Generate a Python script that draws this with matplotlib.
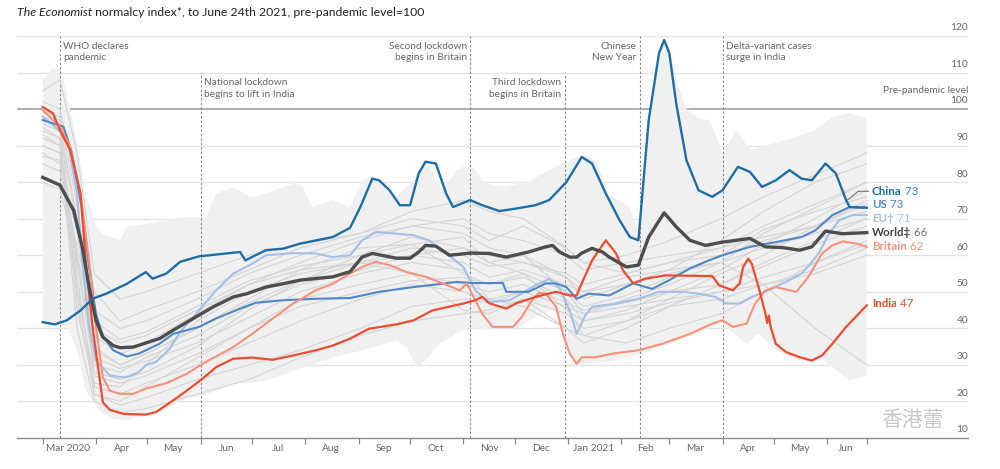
import numpy as np
import matplotlib
matplotlib.use("Agg")
import matplotlib.pyplot as plt
import matplotlib.text as mtext

# ---------------- data (days since 1 Mar 2020, index values) ----------------
START = np.datetime64("2020-03-01")
END_DAY = 480  # 24 June 2021

world_days = [0,10,18,23,27,31,35,41,45,53,60,68,76,84,91,99,111,119,130,140,
              150,169,179,186,192,206,214,219,223,229,237,249,260,270,283,293,297,301,307,311,
              314,320,326,330,340,347,353,362,369,377,386,396,412,421,431,441,448,456,466,480]
world_vals = [81.3,79.2,72.3,62.3,51.3,42.2,37.6,35.3,34.7,34.9,36.0,37.2,39.5,41.7,43.6,45.8,48.6,49.5,51.3,52.2,
              53.2,54.1,55.5,59.5,60.5,59.2,59.2,60.9,62.7,62.5,60.0,60.6,60.5,59.5,60.9,62.3,62.7,60.9,59.5,59.5,
              60.6,61.9,60.9,59.5,56.8,57.3,65.0,71.6,67.8,64.1,62.7,63.6,64.6,62.3,62.1,61.4,62.3,66.6,65.9,66.2]

china_days = [0,7,14,22,29,37,49,60,64,72,80,91,115,118,130,140,150,169,179,185,
              192,196,202,208,214,219,223,229,235,239,249,256,266,276,287,295,305,314,320,328,
              336,342,347,353,359,362,365,369,375,382,390,396,405,412,419,427,435,442,448,456,
              462,468,470,480]
china_vals = [41.7,41.1,42.2,44.9,48.1,49.5,52.2,55.4,53.6,55.0,58.2,59.7,60.9,58.6,61.4,61.8,63.2,65.0,67.5,73.2,
              81.0,80.5,77.8,73.7,73.7,82.4,85.6,85.1,76.9,73.2,75.1,73.7,72.1,72.8,73.7,75.1,80.0,86.9,85.1,76.9,
              69.6,65.0,64.1,97.0,115.3,118.9,115.3,101.6,86.0,77.8,76.0,77.8,84.2,82.8,78.7,80.5,83.3,81.0,80.5,85.1,
              82.4,75.1,73.2,73.0]

us_days = [0,12,17,23,27,31,35,41,49,56,68,76,84,91,101,115,124,140,159,179,
           196,216,231,241,250,268,270,283,293,299,305,311,318,330,344,355,365,377,388,396,
           412,427,442,450,460,470,480]
us_vals = [97.0,95.2,88.0,72.3,56.7,44.0,38.0,34.0,32.3,33.1,35.8,38.5,39.5,40.4,42.7,45.4,47.0,47.7,48.1,48.3,
           50.0,51.3,52.1,52.7,52.4,52.4,50.0,50.0,52.3,52.3,51.3,48.1,49.5,49.0,52.3,50.8,53.2,56.4,58.6,60.0,
           62.3,63.6,65.0,66.8,71.0,73.2,73.0]

eu_days = [0,14,20,23,27,31,39,45,49,56,60,66,74,80,86,91,101,111,122,130,
           146,159,169,179,186,194,206,216,225,235,245,252,260,272,279,287,295,301,307,311,
           316,320,334,347,359,373,382,392,398,406,413,423,435,442,446,452,458,464,472,480]
eu_vals = [97.9,92.4,76.9,58.6,40.4,31.2,27.1,26.7,26.7,28.0,29.9,30.8,34.4,39.0,42.2,44.9,50.4,55.0,57.7,60.0,
           60.6,60.5,59.5,60.0,64.1,66.4,65.9,65.5,64.1,60.5,56.8,50.4,47.2,47.7,49.5,51.8,53.5,51.0,44.9,38.5,
           43.5,45.9,46.8,48.1,50.0,50.0,49.5,48.6,46.8,46.8,48.6,50.4,53.2,55.0,57.0,60.5,65.9,69.6,71.0,71.0]

britain_days = [0,10,16,22,27,31,35,39,45,53,60,72,84,95,111,122,134,146,159,169,
                179,186,194,202,212,223,233,243,247,250,256,262,274,279,285,289,293,299,303,307,
                311,314,322,332,347,361,377,390,396,402,410,415,421,427,439,446,454,460,466,474,480]
britain_vals = [99.7,95.2,89.7,76.9,58.6,40.4,26.7,23.0,22.1,22.1,23.5,25.0,27.6,30.8,34.9,38.5,42.7,46.8,50.4,52.2,
                55.0,56.8,58.2,57.3,55.4,54.1,52.3,50.4,52.3,49.5,44.0,40.4,40.4,43.1,47.7,49.7,49.5,45.9,38.5,33.1,
                30.3,32.1,32.1,33.1,34.0,35.8,38.5,41.3,42.2,40.4,41.3,46.8,50.4,51.3,50.0,54.1,60.5,62.7,63.8,63.2,62.3]

india_days = [0,6,10,16,22,25,29,33,35,39,47,60,66,76,84,93,101,111,122,134,
              146,159,169,179,190,206,216,227,245,252,256,260,270,276,287,299,307,311,313,320,
              328,334,338,344,351,363,390,394,402,406,408,411,413,417,421,422,423,424,427,433,
              441,448,454,460,468,480]
india_vals = [100.6,98.8,94.2,88.8,76.9,58.6,40.4,26.7,19.8,17.7,16.6,16.4,17.1,20.3,23.0,26.2,29.4,31.7,32.0,31.4,
              32.6,34.0,35.3,37.2,39.9,41.1,42.2,44.9,46.8,47.7,48.6,46.9,45.4,46.9,48.6,50.0,49.0,49.0,51.3,58.6,
              64.1,60.5,55.9,52.3,53.6,54.5,54.3,51.8,50.4,52.3,56.8,59.1,57.7,51.3,44.0,41.5,43.5,40.5,35.8,33.5,
              32.1,31.2,32.6,35.8,40.4,46.3]

# range of all countries (upper / lower edges of the shaded band)
band_hi_days = [0,6,11,14,20,25,31,35,45,49,62,81,95,101,111,121,130,146,151,157,
                169,179,186,192,196,206,216,223,233,241,249,258,268,283,295,303,314,322,330,342,
                347,353,359,362,365,369,375,382,388,392,396,404,412,433,450,460,470,480]
band_hi_vals = [107.9,111.2,110.7,104.3,90.6,76.9,67.8,65.9,64.1,67.8,68.7,70.4,70.5,76.9,78.6,75.9,76.9,79.6,79.2,73.2,
                75.1,73.2,80.5,81.6,80.1,76.0,80.5,86.2,77.8,83.3,85.1,79.6,78.7,80.1,83.3,85.1,87.5,86.0,76.5,73.2,
                66.0,97.8,116.0,119.5,117.0,108.0,100.0,97.5,97.0,93.0,87.9,94.2,88.8,91.5,94.2,97.9,98.8,97.5]
band_lo_days = [0,14,20,25,33,41,49,54,60,72,84,95,111,130,150,169,179,186,206,212,
                218,223,231,241,249,258,264,276,287,299,305,311,316,332,351,371,386,396,400,410,
                417,425,431,439,448,454,460,470,480]
band_lo_vals = [41.0,40.8,34.0,23.0,17.5,15.3,14.8,15.7,16.0,18.2,21.0,21.7,24.8,25.6,29.0,32.1,33.1,34.0,36.7,34.9,
                29.4,31.2,35.8,38.5,40.4,39.5,40.4,39.9,43.1,45.5,36.7,29.8,30.2,31.0,33.5,36.7,39.5,42.2,39.5,35.8,
                38.5,34.9,33.0,31.5,30.5,31.5,29.4,25.8,27.1]

# a selection of the other countries (thin grey lines)
grey_days = [0,10,20,30,45,60,90,120,150,185,215,245,260,280,305,315,340,365,395,420,450,480]
grey_lines = [
    [95,92,45,25,24,30,42,50,55,58,55,45,44,48,40,38,42,48,55,60,68,75],
    [98,96,70,35,30,33,40,48,56,62,63,55,52,55,45,42,45,50,56,63,70,78],
    [90,88,60,28,26,28,35,45,53,60,65,62,58,60,50,44,48,52,58,66,73,80],
    [100,97,55,22,20,24,32,40,48,52,55,52,50,52,47,45,47,50,52,57,63,68],
    [88,85,62,45,40,42,48,55,60,65,68,70,66,64,60,56,58,60,62,65,68,72],
    [102,100,80,50,42,45,50,56,62,66,72,75,72,70,62,58,60,64,70,76,82,88],
    [85,83,58,30,28,32,38,46,52,56,60,58,54,56,52,50,54,56,58,62,66,70],
    [96,94,68,32,29,31,36,43,50,55,58,56,48,46,40,36,40,46,52,58,64,70],
    [105,108,88,55,48,50,55,60,63,66,70,68,64,68,62,58,55,58,62,68,74,80],
    [92,90,52,24,22,25,30,36,42,48,52,50,48,50,46,44,46,48,50,52,55,60],
    [80,78,60,40,36,38,45,52,56,58,60,62,60,58,55,52,55,58,60,64,68,74],
    [99,98,74,38,33,36,44,52,58,64,68,66,62,60,54,48,52,56,64,72,80,85],
    [94,92,50,27,25,27,33,40,46,50,53,54,52,54,48,42,44,47,50,54,58,63],
    [87,86,66,42,37,39,46,53,57,60,63,65,58,55,50,46,49,54,60,67,72,76],
    [93,90,40,20,17,18,22,26,32,38,42,44,45,48,44,40,42,46,48,52,56,62],
    [97,95,48,22,19,21,26,30,34,40,46,48,47,50,46,38,36,40,44,50,58,64],
    [90,88,58,34,30,33,40,47,53,58,62,60,57,58,54,50,52,55,58,52,40,30],
]

events = [  # (date, label, text side, top of line)
    ("2020-03-11", "WHO declares\npandemic", "right", 120),
    ("2020-06-01", "National lockdown\nbegins to lift in India", "right", 110),
    ("2020-11-05", "Second lockdown\nbegins in Britain", "left", 120),
    ("2020-12-30", "Third lockdown\nbegins in Britain", "left", 110),
    ("2021-02-12", "Chinese\nNew Year", "left", 120),
    ("2021-04-01", "Delta-variant cases\nsurge in India", "right", 120),
]

month_labels = ["Mar 2020", "Apr", "May", "Jun", "Jul", "Aug", "Sep", "Oct", "Nov",
                "Dec", "Jan 2021", "Feb", "Mar", "Apr", "May", "Jun"]
y_ticks = [10, 20, 30, 40, 50, 60, 70, 80, 90, 100, 110, 120]

# ---------------- styling ----------------
plt.rcParams["font.family"] = ["Lato", "DejaVu Sans"]

C_CHINA = "#1d6ea6"
C_US = "#4f86c6"
C_EU = "#a3c0e6"
C_WORLD = "#4d4d4d"
C_BRIT = "#f7917a"
C_INDIA = "#ec4c2f"
TXT = "#666666"
FS_NOTE = 7.3
FS_AXIS = 7.3


def to_dates(days):
    return START + np.asarray(days).astype("timedelta64[D]")


fig = plt.figure(figsize=(10, 4.69), dpi=100)
ax = fig.add_axes([0.017, 1 - 438 / 469, 0.951, 402 / 469])
x_left = START - np.timedelta64(15, "D")
x_right = START + np.timedelta64(539, "D")
ax.set_xlim(x_left, x_right)
ax.set_ylim(10, 120)

# grid
for yv in y_ticks[1:]:
    if yv == 100:
        ax.axhline(yv, color="#a8a8a8", lw=1.3, zorder=0.6)
    else:
        ax.axhline(yv, color="#e4e4e4", lw=1.0, zorder=0.5)

# band
bx = np.concatenate([to_dates(band_hi_days), to_dates(band_lo_days)[::-1]])
by = np.concatenate([band_hi_vals, band_lo_vals[::-1]])
ax.fill(bx, by, color="#f0f0f0", lw=0, zorder=1)

for g in grey_lines:
    ax.plot(to_dates(grey_days), g, color="#d4d4d4", lw=0.8, zorder=2)

# event lines
for d, label, side, top in events:
    dd = np.datetime64(d)
    ax.plot([dd, dd], [10, top], color="#8a8a8a", lw=0.8, ls=(0, (2.2, 1.8)), zorder=1.5)
    ytxt = 118.4 if top == 120 else 108.4
    off = np.timedelta64(2, "D")
    if side == "right":
        ax.text(dd + off, ytxt, label, ha="left", va="top", fontsize=FS_NOTE, color=TXT,
                linespacing=1.35, zorder=5)
    else:
        ax.text(dd - off, ytxt, label, ha="right", va="top", fontsize=FS_NOTE, color=TXT,
                linespacing=1.35, zorder=5)

# highlighted series
ax.plot(to_dates(eu_days), eu_vals, color=C_EU, lw=1.5, zorder=3)
ax.plot(to_dates(us_days), us_vals, color=C_US, lw=1.5, zorder=3.1)
ax.plot(to_dates(britain_days), britain_vals, color=C_BRIT, lw=1.5, zorder=3.2)
ax.plot(to_dates(india_days), india_vals, color=C_INDIA, lw=1.6, zorder=3.3)
ax.plot(to_dates(world_days), world_vals, color=C_WORLD, lw=2.4, zorder=3.4)
ax.plot(to_dates(china_days), china_vals, color=C_CHINA, lw=1.7, zorder=3.5)

# connector for China label
ax.plot(to_dates([469, 475, 481]), [75.2, 77.5, 77.5], color="#777777", lw=0.8, zorder=3.6)

# end labels
end_labels = [("China", "73", 77.5, C_CHINA, "#3a7db5"),
              ("US", "73", 74.0, C_US, C_US),
              ("EU\u2020", "71", 70.1, C_EU, C_EU),
              ("World\u2021", "66", 66.3, "#444444", "#777777"),
              ("Britain", "62", 62.5, C_BRIT, C_BRIT),
              ("India", "47", 46.8, C_INDIA, C_INDIA)]
xl = START + np.timedelta64(483, "D")
for name, num, yv, c1, c2 in end_labels:
    t1 = ax.text(xl, yv, name, ha="left", va="center", fontsize=8.3, fontweight="bold",
                 color=c1, zorder=6, bbox=dict(facecolor="white", edgecolor="none", pad=0.6))
    ax.annotate(" " + num, xy=(1, 0.5), xycoords=t1, ha="left", va="center", fontsize=8.3,
                color=c2, zorder=6, bbox=dict(facecolor="white", edgecolor="none", pad=0.6))

# right y labels
for yv in y_ticks:
    ax.text(x_right, yv + 1.0, str(yv), ha="right", va="bottom", fontsize=FS_AXIS, color=TXT, zorder=5)
ax.text(x_right, 103.8, "Pre-pandemic level", ha="right", va="bottom", fontsize=FS_AXIS, color=TXT,
        zorder=5)

# x axis
for s in ["top", "left", "right"]:
    ax.spines[s].set_visible(False)
ax.spines["bottom"].set_color("#8c8c8c")
ax.spines["bottom"].set_linewidth(1.0)
ax.set_yticks([])
month_starts = [(np.datetime64("2020-03", "M") + np.timedelta64(i, "M")).astype("datetime64[D]")
                for i in range(16)]
edges = month_starts + [START + np.timedelta64(END_DAY, "D")]
ax.set_xticks(edges)
ax.set_xticklabels([""] * len(edges))
ax.tick_params(axis="x", which="major", length=4, width=0.9, color="#8c8c8c", direction="out")
mids = [edges[i] + (edges[i + 1] - edges[i]) / 2 for i in range(len(edges) - 1)]
ax.set_xticks(mids, minor=True)
ax.set_xticklabels(month_labels, minor=True)
ax.tick_params(axis="x", which="minor", length=0, labelsize=FS_AXIS, labelcolor=TXT, pad=4)

# title
t = fig.text(0.017, 1 - 13 / 469, "The Economist", fontsize=8.8, fontstyle="italic",
             color="#222222", ha="left", va="center")
fig.add_artist(mtext.Annotation(
    " normalcy index*, to June 24th 2021, pre-pandemic level=100", xy=(1, 0.5), xycoords=t,
    ha="left", va="center", fontsize=8.8, color="#222222"))

# watermark
ax.text(START + np.timedelta64(507, "D"), 15.0, "香港蕾", ha="center", va="center", fontsize=15,
        color="#c8c8c8", family=["Noto Sans CJK SC", "DejaVu Sans"], zorder=7)

fig.savefig("out.png", dpi=100)
